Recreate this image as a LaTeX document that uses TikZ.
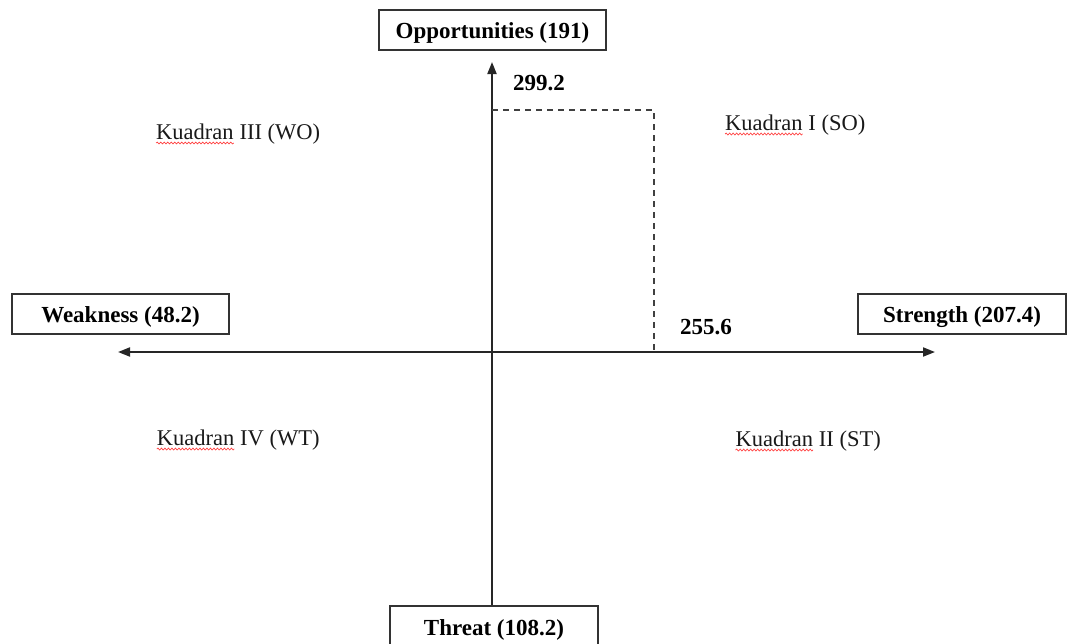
\documentclass[tikz,border=0pt]{standalone}
\usepackage{fontspec}
\setmainfont{Liberation Serif}
\usetikzlibrary{arrows.meta,decorations.pathmorphing}
\tikzset{
  lbox/.style={draw=black!80,line width=1.4pt,fill=white,font=\fontsize{23}{27}\selectfont\bfseries,inner sep=0pt,text height=16pt,text depth=0pt},
  axisline/.style={line width=1.9pt,draw=black!85},
  tipend/.style={-{Triangle[length=12pt,width=9pt]}},
  bothtips/.style={{Triangle[length=12pt,width=9pt]}-{Triangle[length=12pt,width=9pt]}},
  quad/.style={font=\fontsize{22.5}{26}\selectfont,inner sep=0pt,text=black!90,anchor=base},
  val/.style={font=\fontsize{23}{27}\selectfont\bfseries,inner sep=0pt,anchor=base},
  guide/.style={dash pattern=on 6pt off 5pt,line width=1.4pt,draw=black!75},
  wavy/.style={draw=red!75,line width=0.7pt,decorate,decoration={snake,amplitude=0.9pt,segment length=3.5pt}}
}
\newcommand\spellmark[1]{\tikz[baseline=(w.base),x=1pt,y=1pt]{\node[inner sep=0pt,outer sep=0pt] (w) {#1};\draw[wavy] ([yshift=-4pt]w.base west) -- ([yshift=-4pt]w.base east);}}
\begin{document}
\begin{tikzpicture}[x=1pt,y=-1pt]
\useasboundingbox (0,0) rectangle (1067,643);
\clip (0,0) rectangle (1067,643);

% boxes
\node[lbox,minimum width=227pt,minimum height=40pt] (opp) at (492.5,30) {Opportunities (191)};
\node[lbox,minimum width=217pt,minimum height=40pt] (weak) at (120.5,314) {Weakness (48.2)};
\node[lbox,minimum width=208pt,minimum height=40pt] (str) at (962,314) {Strength (207.4)};
\node[lbox,minimum width=208pt,minimum height=42pt] (thr) at (494,627) {Threat (108.2)};

% axis end points
\coordinate (vtop) at (492,62);
\coordinate (hleft) at (118,352);
\coordinate (hright) at (935,352);
\coordinate (dA) at (492,110);
\coordinate (dB) at (654,110);
\coordinate (dC) at (654,352);

% axes
\draw[axisline,tipend] (thr.north -| vtop) -- (vtop);
\draw[axisline,bothtips] (hleft) -- (hright);

% dashed guide
\draw[guide] (dA) -- (dB) -- (dC);

% values
\node[val] (v1) at (539,90) {299.2};
\node[val] (v2) at (706,334) {255.6};

% quadrant labels
\node[quad] (q3) at (238,139) {\spellmark{Kuadran} III (WO)};
\node[quad] (q1) at (795,130) {\spellmark{Kuadran} I (SO)};
\node[quad] (q4) at (238,445) {\spellmark{Kuadran} IV (WT)};
\node[quad] (q2) at (808,446) {\spellmark{Kuadran} II (ST)};
\end{tikzpicture}
\end{document}
